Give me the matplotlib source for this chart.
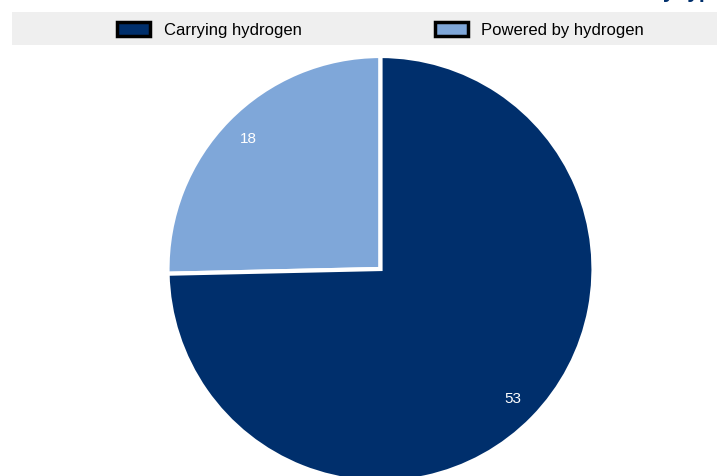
import matplotlib
matplotlib.use("Agg")
import matplotlib.pyplot as plt
from matplotlib.patches import Patch, Rectangle

# Hydrogen vessels by type
categories = ["Carrying hydrogen", "Powered by hydrogen"]
values = [53, 18]
colors = ["#002F6C", "#7FA7D9"]

W, H = 717, 476
fig = plt.figure(figsize=(W / 100, H / 100), dpi=100)
fig.patch.set_facecolor("white")

font = ["Liberation Sans", "DejaVu Sans"]

# Title (sits above the top edge of the canvas; only descenders show)
fig.text(724 / W, 1 + 2.5 / H, "Number of vessels by type",
         ha="right", va="baseline", fontsize=15, fontweight="bold",
         color="#002F6C", family=font)

# Legend band
fig.patches.append(Rectangle((12 / W, 1 - 45 / H), (W - 12) / W, 33 / H,
                             transform=fig.transFigure, facecolor="#EFEFEF",
                             edgecolor="none", zorder=0))
handles = [Patch(facecolor=c, edgecolor="black", linewidth=2.5) for c in colors]
fig.legend(handles, categories, loc="center", bbox_to_anchor=(380.5 / W, 1 - 30 / H),
           ncol=2, frameon=False, prop={"family": font, "size": 12},
           handlelength=2.0, handleheight=0.95, handletextpad=0.8,
           columnspacing=8.0, borderpad=0, borderaxespad=0)

# Pie
cx, cy, r = 380.5, H - 269, 213
ax = fig.add_axes([(cx - r) / W, (cy - r) / H, 2 * r / W, 2 * r / H])
order = [1, 0]
wedges, texts = ax.pie([values[i] for i in order],
                       colors=[colors[i] for i in order],
                       startangle=90, counterclock=True, radius=1,
                       labels=[str(values[i]) for i in order],
                       labeldistance=0.87,
                       wedgeprops=dict(edgecolor="white", linewidth=3),
                       textprops=dict(color="white", fontsize=11, family=font,
                                      ha="center", va="center"))
for t in texts:
    t.set_ha("center")
    t.set_va("center")
ax.set_xlim(-1, 1)
ax.set_ylim(-1, 1)
ax.set_aspect("equal")
ax.axis("off")

fig.savefig("out.png", dpi=100)
